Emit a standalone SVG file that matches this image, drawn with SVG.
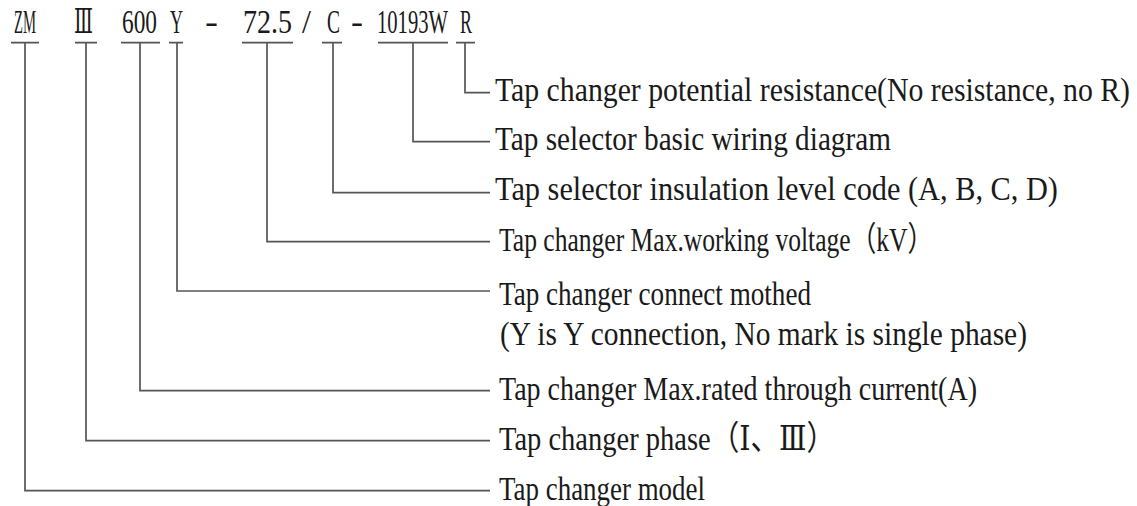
<svg xmlns="http://www.w3.org/2000/svg" width="1137" height="506" viewBox="0 0 1137 506">
<style>
.t{font-family:"Liberation Serif","DejaVu Serif","Noto Sans CJK SC",serif;font-size:34px;fill:#1a1a1a}
.c{fill:none;stroke:#555;stroke-width:1.7}
</style>
<rect width="1137" height="506" fill="#fff"/>
<g id="code-zm" transform="scale(0.6,1)"><text class="t" x="23.333" y="33" textLength="36.667" lengthAdjust="spacingAndGlyphs">ZM</text></g>
<g id="code-phase" transform="scale(0.6,1)"><text class="t" x="123.333" y="33" textLength="31.667" lengthAdjust="spacingAndGlyphs">Ⅲ</text></g>
<g id="code-current" transform="scale(0.6,1)"><text class="t" x="203.333" y="33" textLength="58.333" lengthAdjust="spacingAndGlyphs">600</text></g>
<g id="code-y" transform="scale(0.6,1)"><text class="t" x="283.333" y="33" textLength="21.667" lengthAdjust="spacingAndGlyphs">Y</text></g>
<g id="sep1" transform="scale(0.6,1)"><text class="t" x="341.667" y="33" textLength="21.667" lengthAdjust="spacingAndGlyphs">-</text></g>
<g id="code-voltage" transform="scale(0.6,1)"><text class="t" x="405" y="33" textLength="81.667" lengthAdjust="spacingAndGlyphs">72.5</text></g>
<g id="sep2" transform="scale(0.6,1)"><text class="t" x="503.333" y="33" textLength="15" lengthAdjust="spacingAndGlyphs">/</text></g>
<g id="code-c" transform="scale(0.6,1)"><text class="t" x="545" y="33" textLength="21.667" lengthAdjust="spacingAndGlyphs">C</text></g>
<g id="sep3" transform="scale(0.6,1)"><text class="t" x="585" y="33" textLength="20" lengthAdjust="spacingAndGlyphs">-</text></g>
<g id="code-wiring" transform="scale(0.6,1)"><text class="t" x="628.333" y="33" textLength="118.333" lengthAdjust="spacingAndGlyphs">10193W</text></g>
<g id="code-r" transform="scale(0.6,1)"><text class="t" x="766.667" y="33" textLength="20" lengthAdjust="spacingAndGlyphs">R</text></g>

<g id="connectors" class="c">
<path d="M11 42.7H39M25 42.7V490.7H490"/>
<path d="M75 42.7H97M86 42.7V440.7H490"/>
<path d="M121 42.7H160M140 42.7V390.7H490"/>
<path d="M169 42.7H183M177 42.7V291H490"/>
<path d="M242 42.7H293M267 42.7V241.7H490"/>
<path d="M322 42.7H342M333 42.7V192.7H490"/>
<path d="M378 42.7H448M413 42.7V141.7H490"/>
<path d="M456 42.7H475M465 42.7V92.7H490"/>
</g>

<g id="desc-r" transform="scale(0.6,1)"><text class="t" x="825" y="101" textLength="1058.333" lengthAdjust="spacingAndGlyphs">Tap changer potential resistance(No resistance, no R)</text></g>
<g id="desc-wiring" transform="scale(0.6,1)"><text class="t" x="825" y="150" textLength="660" lengthAdjust="spacingAndGlyphs">Tap selector basic wiring diagram</text></g>
<g id="desc-c" transform="scale(0.6,1)"><text class="t" x="825" y="200" textLength="938.333" lengthAdjust="spacingAndGlyphs">Tap selector insulation level code (A, B, C, D)</text></g>
<g id="desc-voltage" transform="scale(0.6,1)"><text class="t" x="831.667" y="251" textLength="723.333" lengthAdjust="spacingAndGlyphs">Tap changer Max.working voltage（kV）</text></g>
<g id="desc-y" transform="scale(0.6,1)">
<text class="t" x="831.667" y="305" textLength="520" lengthAdjust="spacingAndGlyphs">Tap changer connect mothed</text>
<text class="t" x="833.333" y="345" textLength="878.333" lengthAdjust="spacingAndGlyphs">(Y is Y connection, No mark is single phase)</text>
</g>
<g id="desc-current" transform="scale(0.6,1)"><text class="t" x="831.667" y="400" textLength="796.667" lengthAdjust="spacingAndGlyphs">Tap changer Max.rated through current(A)</text></g>
<g id="desc-phase" transform="scale(0.6,1)"><text class="t" x="831.667" y="450" textLength="560" lengthAdjust="spacingAndGlyphs">Tap changer phase（Ⅰ、Ⅲ）</text></g>
<g id="desc-zm" transform="scale(0.6,1)"><text class="t" x="831.667" y="500" textLength="343.333" lengthAdjust="spacingAndGlyphs">Tap changer model</text></g>
</svg>
